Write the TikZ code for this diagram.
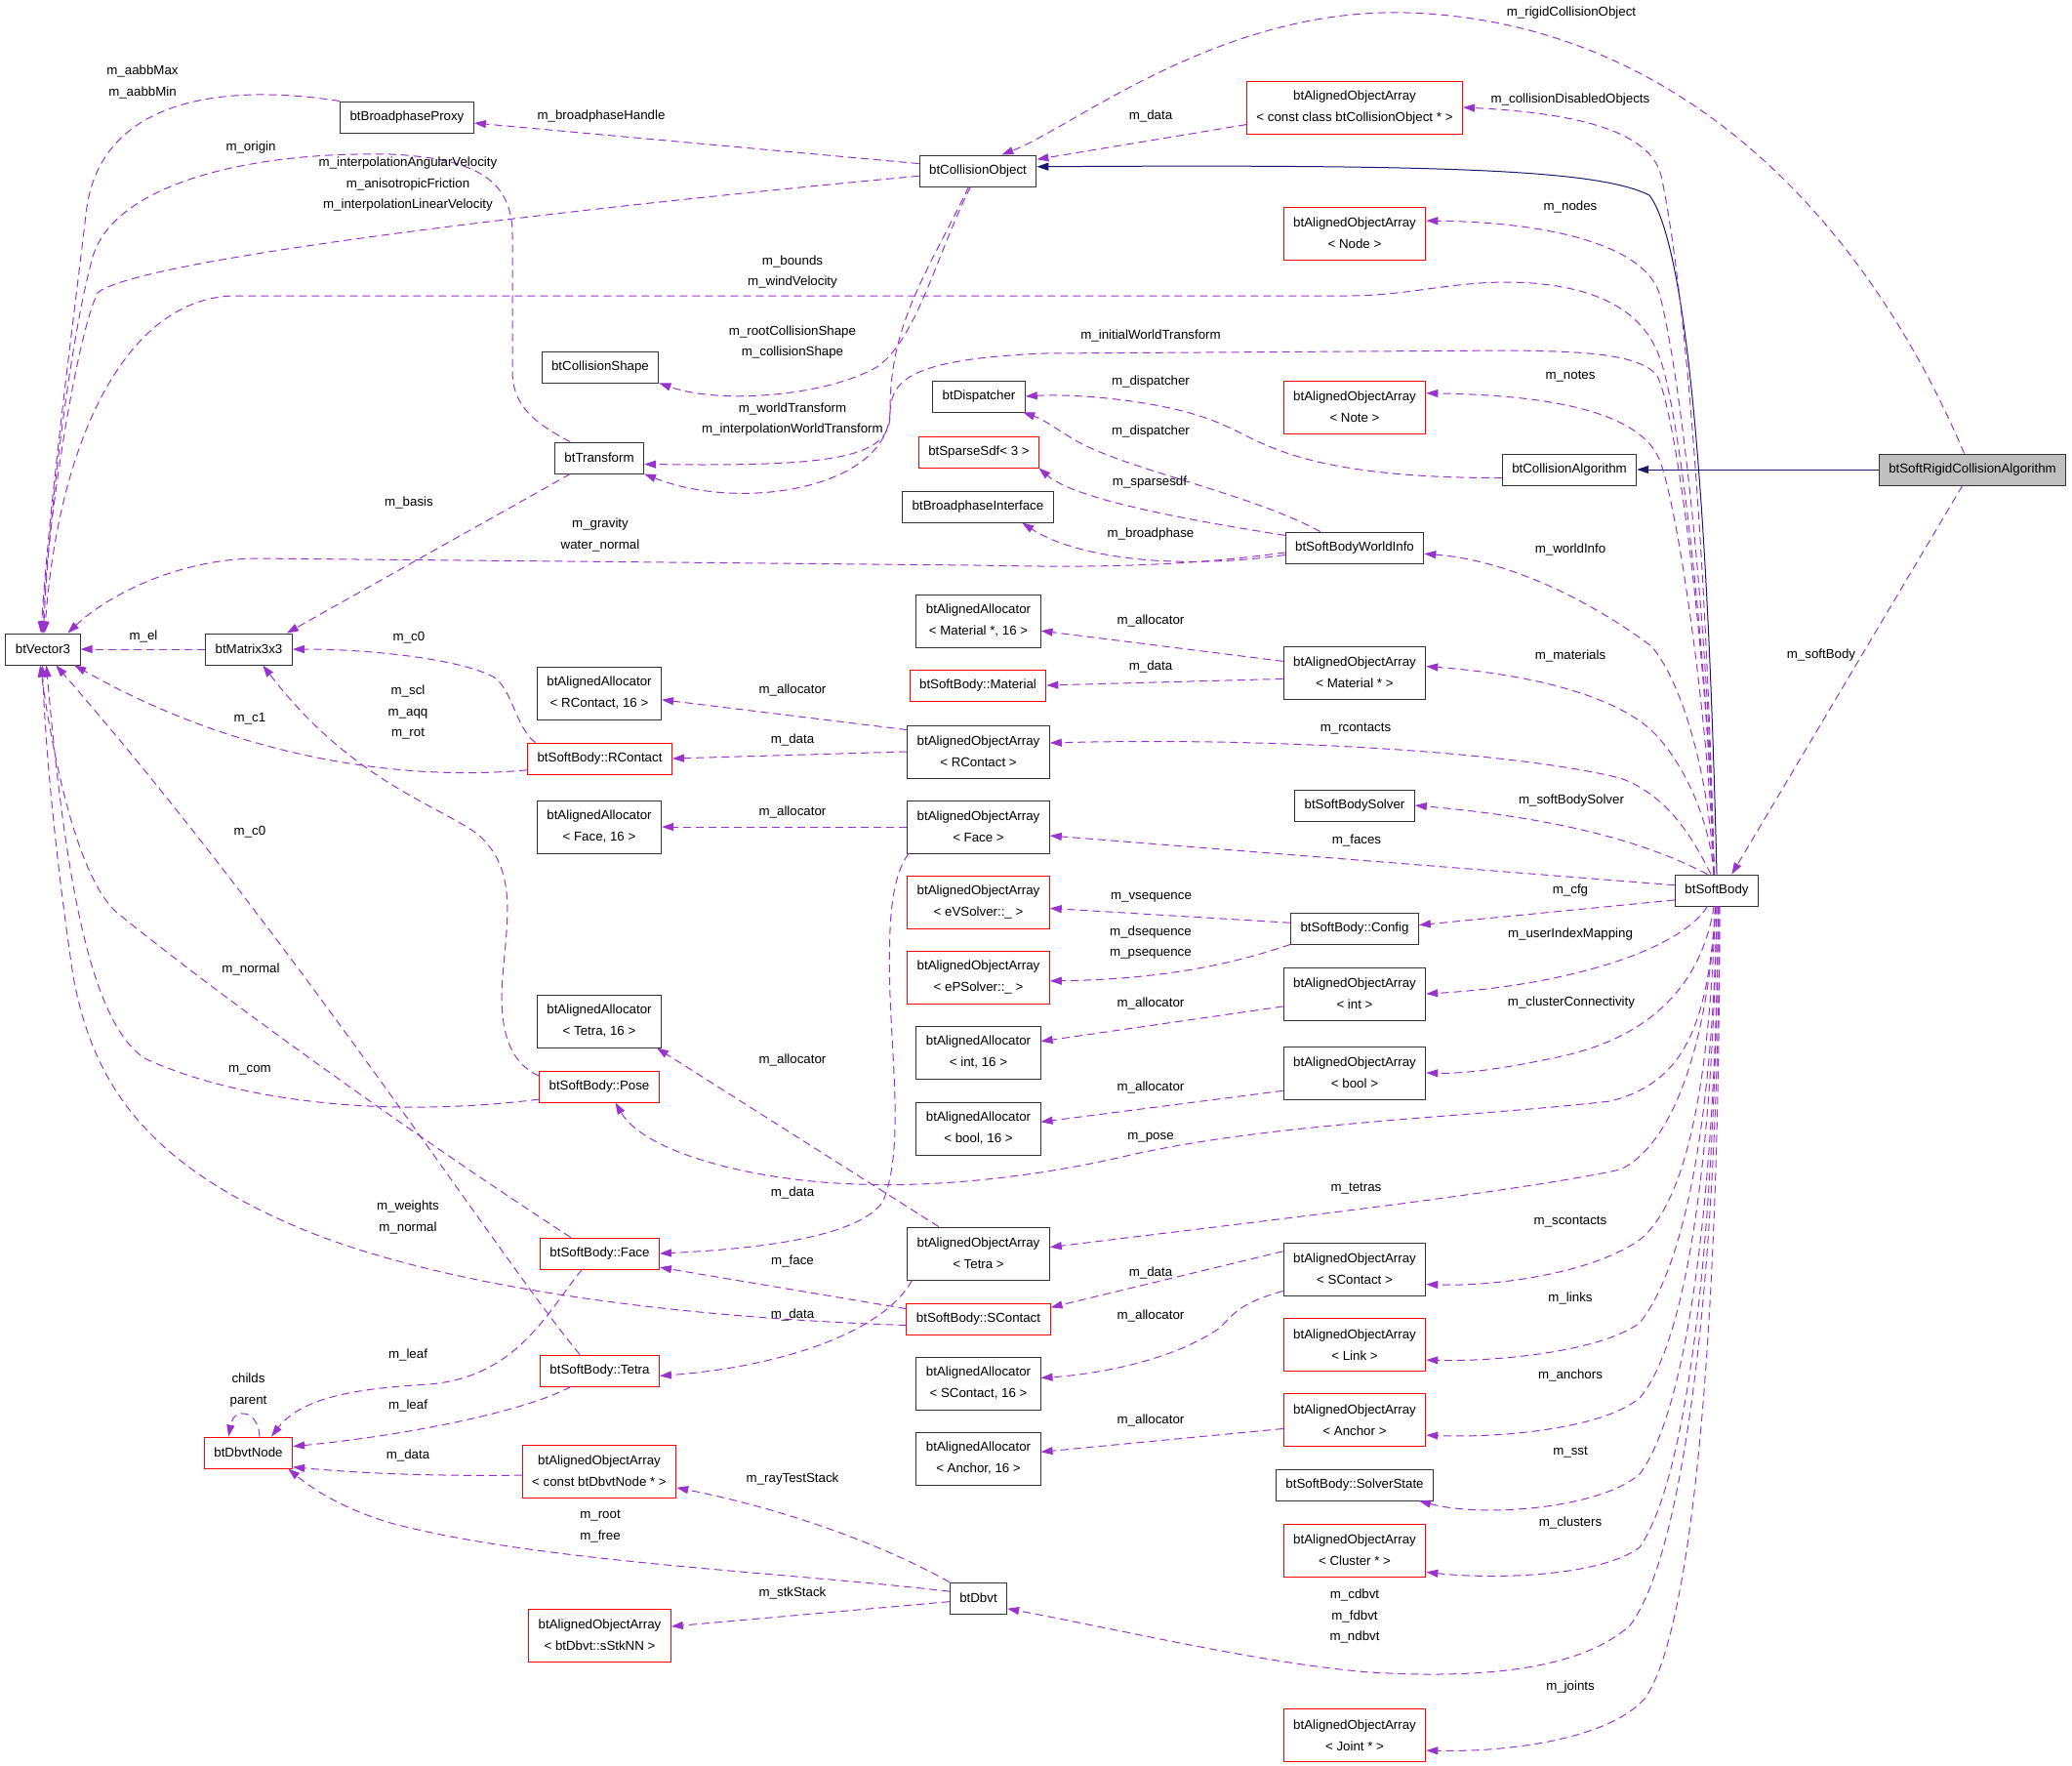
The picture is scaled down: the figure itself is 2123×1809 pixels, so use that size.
\documentclass[tikz,border=0pt]{standalone}
\usepackage{fontspec}
\setmainfont{Liberation Sans}
\usetikzlibrary{arrows.meta}
\definecolor{depcol}{RGB}{154,50,205}
\definecolor{inhcol}{RGB}{25,25,112}
\definecolor{boxred}{RGB}{255,0,0}
\definecolor{rootgray}{RGB}{191,191,191}
\tikzset{
  cls/.style={draw=black!80, line width=0.9pt, minimum height=32pt, inner xsep=10pt, inner ysep=1pt,
    font=\fontsize{13.3}{22}\selectfont, align=center},
  cls2/.style={cls, minimum height=54pt},
  redcls/.style={cls, draw=boxred},
  redcls2/.style={cls2, draw=boxred},
  dep/.style={depcol, line width=1pt, dash pattern=on 8pt off 5pt, -{Triangle[length=12pt,width=8pt]}},
  inh/.style={inhcol, line width=1pt, -{Triangle[length=12pt,width=8pt]}},
  lbl/.style={font=\fontsize{13.3}{21.5}\selectfont, inner sep=0pt, align=center},
}
\begin{document}
\begin{tikzpicture}[x=1pt,y=-1pt]
    \useasboundingbox (0,0) rectangle (2123,1809);

    % Classes
    \node[cls, fill=rootgray] (rigidalg) at (2021,481) {btSoftRigidCollisionAlgorithm};
    \node[cls] (collalg) at (1608,481) {btCollisionAlgorithm};
    \node[cls] (collobj) at (1002,175) {btCollisionObject};
    \node[cls] (bproxy) at (417,120) {btBroadphaseProxy};
    \node[redcls2] (disobj) at (1388,110) {btAlignedObjectArray\\< const class btCollisionObject * >};
    \node[redcls2] (nodes) at (1388,239) {btAlignedObjectArray\\< Node >};
    \node[cls] (cshape) at (615,376) {btCollisionShape};
    \node[cls] (dispatcher) at (1003,406) {btDispatcher};
    \node[redcls2] (notes) at (1388,417) {btAlignedObjectArray\\< Note >};
    \node[cls] (transform) at (614,469) {btTransform};
    \node[redcls] (sdf) at (1003,463) {btSparseSdf< 3 >};
    \node[cls] (bpiface) at (1002,519) {btBroadphaseInterface};
    \node[cls] (worldinfo) at (1388,561) {btSoftBodyWorldInfo};
    \node[cls] (vec) at (44,665) {btVector3};
    \node[cls] (mat) at (255,665) {btMatrix3x3};
    \node[cls2] (allocmat) at (1002.5,636) {btAlignedAllocator\\< Material *, 16 >};
    \node[cls2] (arrmat) at (1388,689) {btAlignedObjectArray\\< Material * >};
    \node[redcls] (material) at (1002,702) {btSoftBody::Material};
    \node[cls2] (allocrc) at (614,710) {btAlignedAllocator\\< RContact, 16 >};
    \node[cls2] (arrrc) at (1002.5,770) {btAlignedObjectArray\\< RContact >};
    \node[redcls] (rcontact) at (614.5,777) {btSoftBody::RContact};
    \node[cls] (solver) at (1388,825) {btSoftBodySolver};
    \node[cls2] (allocface) at (614,847) {btAlignedAllocator\\< Face, 16 >};
    \node[cls2] (arrface) at (1002.5,847) {btAlignedObjectArray\\< Face >};
    \node[cls] (sb) at (1759,912) {btSoftBody};
    \node[redcls2] (arrvs) at (1002.5,924) {btAlignedObjectArray\\< eVSolver::\_ >};
    \node[cls] (config) at (1388,951) {btSoftBody::Config};
    \node[redcls2] (arrps) at (1002.5,1001) {btAlignedObjectArray\\< ePSolver::\_ >};
    \node[cls2] (arrint) at (1388,1018) {btAlignedObjectArray\\< int >};
    \node[cls2] (alloctet) at (614,1046) {btAlignedAllocator\\< Tetra, 16 >};
    \node[cls2] (allocint) at (1002.5,1078) {btAlignedAllocator\\< int, 16 >};
    \node[cls2] (arrbool) at (1388,1099) {btAlignedObjectArray\\< bool >};
    \node[redcls] (pose) at (614,1113) {btSoftBody::Pose};
    \node[cls2] (allocbool) at (1002.5,1156) {btAlignedAllocator\\< bool, 16 >};
    \node[redcls] (face) at (614.5,1284) {btSoftBody::Face};
    \node[cls2] (arrtet) at (1002.5,1284) {btAlignedObjectArray\\< Tetra >};
    \node[cls2] (arrsc) at (1388,1300) {btAlignedObjectArray\\< SContact >};
    \node[redcls] (scontact) at (1002.5,1351) {btSoftBody::SContact};
    \node[redcls2] (arrlink) at (1388,1377.5) {btAlignedObjectArray\\< Link >};
    \node[redcls] (tetra) at (614.5,1404) {btSoftBody::Tetra};
    \node[cls2] (allocsc) at (1002.5,1417) {btAlignedAllocator\\< SContact, 16 >};
    \node[redcls2] (arranc) at (1388,1454.5) {btAlignedObjectArray\\< Anchor >};
    \node[redcls] (dbvtnode) at (254.5,1488) {btDbvtNode};
    \node[cls2] (allocanc) at (1002.5,1494) {btAlignedAllocator\\< Anchor, 16 >};
    \node[redcls2] (arrdbn) at (614,1507) {btAlignedObjectArray\\< const btDbvtNode * >};
    \node[cls] (sst) at (1388,1521) {btSoftBody::SolverState};
    \node[redcls2] (arrcl) at (1388,1588) {btAlignedObjectArray\\< Cluster * >};
    \node[cls] (dbvt) at (1002.5,1637) {btDbvt};
    \node[redcls2] (arrstk) at (614.5,1675) {btAlignedObjectArray\\< btDbvt::sStkNN >};
    \node[redcls2] (arrjoint) at (1388,1777.5) {btAlignedObjectArray\\< Joint * >};

    % Inheritance
    \draw[inh] (rigidalg) -- (collalg);
    \draw[inh] (sb.north) .. controls (1752,600) and (1735,260) .. (1690,200) .. controls (1640,175) and (1500,168) .. (collobj.4);

    % Members of the algorithm
    \draw[dep] (rigidalg.117) .. controls (1900,200) and (1700,20) .. (1440,13) .. controls (1250,8) and (1100,130) .. (collobj.34);
    \draw[dep] (rigidalg.-122) -- (sb.47);

    % Members of the soft body, upper side
    \draw[dep] (sb.100) .. controls (1750,600) and (1728,300) .. (1702,180) .. controls (1690,130) and (1600,115) .. (disobj.east);
    \draw[dep] (sb.100) .. controls (1752,650) and (1722,380) .. (1700,300) .. controls (1685,255) and (1600,228) .. (nodes.10);
    \draw[dep] (sb.100) .. controls (1752,700) and (1722,420) .. (1700,365) .. controls (1680,310) and (1620,289) .. (1540,289)
        .. controls (1480,290) and (1440,303) .. (1380,303) -- (240,303) .. controls (130,305) and (60,450) .. (vec.84);
    \draw[dep] (sb.100) .. controls (1752,700) and (1720,430) .. (1698,385) .. controls (1680,362) and (1620,360) .. (1550,359)
        -- (1070,362) .. controls (930,368) and (912,390) .. (912,425) .. controls (912,470) and (850,478) .. (transform.-8);
    \draw[dep] (sb.100) .. controls (1752,750) and (1720,520) .. (1700,470) .. controls (1680,425) and (1600,405) .. (notes.11);
    \draw[dep] (sb.100) .. controls (1752,800) and (1725,700) .. (1692,662) .. controls (1650,630) and (1560,575) .. (worldinfo.-5);
    \draw[dep] (sb.100) .. controls (1752,840) and (1725,780) .. (1692,748) .. controls (1650,710) and (1560,690) .. (arrmat.5);
    \draw[dep] (sb.110) .. controls (1735,860) and (1710,815) .. (1660,797) .. controls (1550,770) and (1300,755) .. (arrrc.7);
    \draw[dep] (sb.120) .. controls (1700,870) and (1620,840) .. (solver.east);
    \draw[dep] (sb.173) -- (arrface.-7);
    \draw[dep] (sb.193) -- (config.3);

    % Members of the soft body, lower side
    \draw[dep] (sb.-120) .. controls (1720,975) and (1600,1010) .. (arrint.east);
    \draw[dep] (sb.-100) .. controls (1745,1000) and (1700,1060) .. (1600,1082) .. controls (1540,1095) and (1500,1100) .. (arrbool.east);
    \draw[dep] (sb.-95) .. controls (1750,1060) and (1720,1110) .. (1650,1128) .. controls (1500,1145) and (1300,1150) .. (1150,1185)
        .. controls (1050,1208) and (950,1216) .. (880,1213) .. controls (770,1210) and (660,1180) .. (pose.-45);
    \draw[dep] (sb.-95) .. controls (1752,1050) and (1720,1170) .. (1660,1198) .. controls (1560,1220) and (1300,1250) .. (arrtet.5);
    \draw[dep] (sb.-95) .. controls (1752,1100) and (1730,1230) .. (1680,1270) .. controls (1630,1305) and (1530,1318) .. (arrsc.-12);
    \draw[dep] (sb.-90) .. controls (1755,1150) and (1725,1300) .. (1680,1355) .. controls (1640,1385) and (1530,1395) .. (arrlink.-12);
    \draw[dep] (sb.-90) .. controls (1755,1200) and (1725,1380) .. (1680,1432) .. controls (1640,1465) and (1530,1473) .. (arranc.-12);
    \draw[dep] (sb.-85) .. controls (1758,1250) and (1725,1450) .. (1680,1510) .. controls (1640,1545) and (1520,1555) .. (sst.-14);
    \draw[dep] (sb.-85) .. controls (1758,1300) and (1725,1520) .. (1680,1585) .. controls (1640,1615) and (1530,1618) .. (arrcl.-17);
    \draw[dep] (sb.-80) .. controls (1760,1350) and (1720,1600) .. (1670,1665) .. controls (1620,1710) and (1520,1720) .. (1404,1713)
        .. controls (1300,1705) and (1150,1670) .. (dbvt.-20);
    \draw[dep] (sb.-80) .. controls (1762,1400) and (1730,1680) .. (1685,1740) .. controls (1650,1780) and (1550,1795) .. (arrjoint.-12);

    % Members of the collision object
    \draw[dep] (collobj.173) -- (bproxy.-5);
    \draw[dep] (collobj.185) .. controls (600,212) and (140,265) .. (100,300) .. controls (80,340) and (50,520) .. (vec.93);
    \draw[dep] (collobj.-115) .. controls (960,260) and (940,345) .. (900,375) .. controls (850,405) and (740,415) .. (cshape.south east);
    \draw[dep] (collobj.-120) .. controls (950,280) and (912,330) .. (912,420) .. controls (912,500) and (760,525) .. (transform.south east);
    \draw[dep] (disobj.189) -- (collobj.11);

    % Transform, matrix and proxy
    \draw[dep] (transform.151) .. controls (540,430) and (525,410) .. (525,380) -- (525,240) .. controls (525,180) and (480,162) .. (400,158)
        .. controls (250,155) and (120,190) .. (96,260) .. controls (75,330) and (50,520) .. (vec.88);
    \draw[dep] (transform.-151) -- (mat.23);
    \draw[dep] (mat.west) -- (vec.east);
    \draw[dep] (bproxy.north west) .. controls (230,85) and (100,100) .. (88,220) .. controls (75,330) and (50,520) .. (vec.97);

    % World info and dispatcher
    \draw[dep] (collalg.187) .. controls (1330,490) and (1290,450) .. (1255,436) .. controls (1200,410) and (1100,403) .. (dispatcher.east);
    \draw[dep] (worldinfo.155) .. controls (1280,505) and (1150,480) .. (1100,450) .. controls (1080,438) and (1070,430) .. (dispatcher.-20);
    \draw[dep] (worldinfo.170) .. controls (1200,530) and (1100,510) .. (sdf.-15);
    \draw[dep] (worldinfo.186) .. controls (1200,585) and (1100,570) .. (bpiface.-20);
    \draw[dep] (worldinfo.184) .. controls (1200,582) and (1100,581) .. (1000,579) -- (260,572) .. controls (180,574) and (110,610) .. (vec.33);

    % Arrays and allocators
    \draw[dep] (arrmat.171) -- (allocmat.-9);
    \draw[dep] (arrmat.185) -- (material.east);
    \draw[dep] (arrrc.163) -- (allocrc.-6);
    \draw[dep] (arrrc.west) -- (rcontact.east);
    \draw[dep] (arrface.west) -- (allocface.east);
    \draw[dep] (arrface.-159) .. controls (912,900) and (910,950) .. (912,1020) .. controls (915,1100) and (925,1180) .. (905,1230)
        .. controls (880,1270) and (760,1280) .. (face.east);
    \draw[dep] (config.175) -- (arrvs.-5);
    \draw[dep] (config.south west) .. controls (1270,985) and (1200,1003) .. (arrps.-3);
    \draw[dep] (arrint.190) -- (allocint.10);
    \draw[dep] (arrbool.194) -- (allocbool.6);
    \draw[dep] (arrtet.146) -- (alloctet.-25);
    \draw[dep] (arrtet.-158) .. controls (905,1365) and (800,1400) .. (tetra.-5);
    \draw[dep] (arrsc.166) -- (scontact.9);
    \draw[dep] (arrsc.197) .. controls (1270,1335) and (1265,1345) .. (1250,1360) .. controls (1200,1395) and (1120,1408) .. (allocsc.5);
    \draw[dep] (arranc.187) -- (allocanc.6);

    % Contacts, pose, faces, tetras
    \draw[dep] (rcontact.189) .. controls (420,800) and (250,780) .. (vec.-27);
    \draw[dep] (rcontact.166) .. controls (528,745) and (525,705) .. (505,693) .. controls (470,675) and (380,665) .. (mat.east);
    \draw[dep] (pose.192) .. controls (400,1145) and (250,1130) .. (150,1085) .. controls (90,1050) and (65,880) .. (vec.-78);
    \draw[dep] (pose.170) .. controls (525,1090) and (510,1060) .. (515,1000) .. controls (520,940) and (530,890) .. (490,855)
        .. controls (450,825) and (360,800) .. (mat.-49);
    \draw[dep] (scontact.185) .. controls (700,1350) and (450,1320) .. (300,1255) .. controls (150,1190) and (95,1110) .. (75,1000)
        .. controls (60,900) and (47,780) .. (vec.-92);
    \draw[dep] (scontact.172) -- (face.-13);
    \draw[dep] (face.151) .. controls (450,1180) and (250,1040) .. (120,935) .. controls (80,900) and (55,780) .. (vec.-100);
    \draw[dep] (tetra.141) .. controls (520,1300) and (300,960) .. (vec.-51);
    \draw[dep] (face.-138) .. controls (560,1345) and (530,1410) .. (440,1418) .. controls (370,1422) and (310,1430) .. (dbvtnode.35);
    \draw[dep] (tetra.-151) .. controls (540,1445) and (420,1470) .. (dbvtnode.8);

    % Tree nodes
    \draw[dep] (arrdbn.183) .. controls (450,1512) and (380,1510) .. (dbvtnode.-18);
    \draw[dep] (dbvtnode.55) .. controls (265,1445) and (240,1440) .. (dbvtnode.141);
    \draw[dep] (dbvt.167) .. controls (800,1610) and (550,1600) .. (400,1560) .. controls (350,1545) and (320,1525) .. (dbvtnode.-22);
    \draw[dep] (dbvt.north west) .. controls (900,1580) and (800,1545) .. (arrdbn.-12);
    \draw[dep] (dbvt.187) -- (arrstk.7);

    % Labels
    \node[lbl] (lRigid) at (1610,13) {m\_rigidCollisionObject};
    \node[lbl] (lAabb) at (146,84) {m\_aabbMax\\m\_aabbMin};
    \node[lbl] (lBpH) at (616,119) {m\_broadphaseHandle};
    \node[lbl] (lData1) at (1179,119) {m\_data};
    \node[lbl] (lDisabled) at (1609,102) {m\_collisionDisabledObjects};
    \node[lbl] (lOrigin) at (257,151) {m\_origin};
    \node[lbl] (lInterp) at (418,189) {m\_interpolationAngularVelocity\\m\_anisotropicFriction\\m\_interpolationLinearVelocity};
    \node[lbl] (lNodes) at (1609,212) {m\_nodes};
    \node[lbl] (lBounds) at (812,278.5) {m\_bounds\\m\_windVelocity};
    \node[lbl] (lShape) at (812,350.5) {m\_rootCollisionShape\\m\_collisionShape};
    \node[lbl] (lInitWT) at (1179,344) {m\_initialWorldTransform};
    \node[lbl] (lNotes) at (1609,386) {m\_notes};
    \node[lbl] (lDisp1) at (1179,391) {m\_dispatcher};
    \node[lbl] (lWT) at (812,429.5) {m\_worldTransform\\m\_interpolationWorldTransform};
    \node[lbl] (lDisp2) at (1179,442) {m\_dispatcher};
    \node[lbl] (lSdf) at (1178,494) {m\_sparsesdf};
    \node[lbl] (lBasis) at (419,515) {m\_basis};
    \node[lbl] (lGrav) at (615,548) {m\_gravity\\water\_normal};
    \node[lbl] (lBphase) at (1179,547) {m\_broadphase};
    \node[lbl] (lWInfo) at (1609,563) {m\_worldInfo};
    \node[lbl] (lAllocMat) at (1179,636) {m\_allocator};
    \node[lbl] (lEl) at (147,652) {m\_el};
    \node[lbl] (lC0a) at (419,653) {m\_c0};
    \node[lbl] (lSoftBody) at (1866,671) {m\_softBody};
    \node[lbl] (lMaterials) at (1609,672) {m\_materials};
    \node[lbl] (lDataMat) at (1179,683) {m\_data};
    \node[lbl] (lAllocRc) at (812,707) {m\_allocator};
    \node[lbl] (lScl) at (418,729.5) {m\_scl\\m\_aqq\\m\_rot};
    \node[lbl] (lC1) at (256,736) {m\_c1};
    \node[lbl] (lRcontacts) at (1389,747) {m\_rcontacts};
    \node[lbl] (lDataRc) at (812,758) {m\_data};
    \node[lbl] (lSolver) at (1610,820) {m\_softBodySolver};
    \node[lbl] (lAllocFace) at (812,832) {m\_allocator};
    \node[lbl] (lC0b) at (256,852) {m\_c0};
    \node[lbl] (lFaces) at (1390,861) {m\_faces};
    \node[lbl] (lCfg) at (1609,912) {m\_cfg};
    \node[lbl] (lVseq) at (1179.5,919) {m\_vsequence};
    \node[lbl] (lPseq) at (1179,965.5) {m\_dsequence\\m\_psequence};
    \node[lbl] (lUserIdx) at (1609,957) {m\_userIndexMapping};
    \node[lbl] (lNormal) at (257,993) {m\_normal};
    \node[lbl] (lAllocInt) at (1179,1028) {m\_allocator};
    \node[lbl] (lClConn) at (1610,1027) {m\_clusterConnectivity};
    \node[lbl] (lAllocTet) at (812,1086) {m\_allocator};
    \node[lbl] (lCom) at (256,1096) {m\_com};
    \node[lbl] (lAllocBool) at (1179,1114) {m\_allocator};
    \node[lbl] (lPose) at (1179,1165) {m\_pose};
    \node[lbl] (lTetras) at (1389.5,1218) {m\_tetras};
    \node[lbl] (lDataFace) at (812,1222) {m\_data};
    \node[lbl] (lWeights) at (418,1247) {m\_weights\\m\_normal};
    \node[lbl] (lScontacts) at (1609,1252) {m\_scontacts};
    \node[lbl] (lFace) at (812,1292) {m\_face};
    \node[lbl] (lDataSc) at (1179,1304) {m\_data};
    \node[lbl] (lLinks) at (1609,1330) {m\_links};
    \node[lbl] (lDataTet) at (812,1347) {m\_data};
    \node[lbl] (lAllocSc) at (1179,1348) {m\_allocator};
    \node[lbl] (lLeafF) at (418,1388) {m\_leaf};
    \node[lbl] (lAnchors) at (1609,1408.5) {m\_anchors};
    \node[lbl] (lSelf) at (254.5,1424) {childs\\parent};
    \node[lbl] (lLeafT) at (418,1440) {m\_leaf};
    \node[lbl] (lAllocAnc) at (1179,1455) {m\_allocator};
    \node[lbl] (lSst) at (1609,1488) {m\_sst};
    \node[lbl] (lDataDbn) at (418,1491) {m\_data};
    \node[lbl] (lRay) at (812,1515) {m\_rayTestStack};
    \node[lbl] (lRoot) at (615,1563.5) {m\_root\\m\_free};
    \node[lbl] (lClusters) at (1609,1560) {m\_clusters};
    \node[lbl] (lStk) at (812,1632) {m\_stkStack};
    \node[lbl] (lDbvts) at (1388,1655.5) {m\_cdbvt\\m\_fdbvt\\m\_ndbvt};
    \node[lbl] (lJoints) at (1609,1728.5) {m\_joints};
\end{tikzpicture}
\end{document}
